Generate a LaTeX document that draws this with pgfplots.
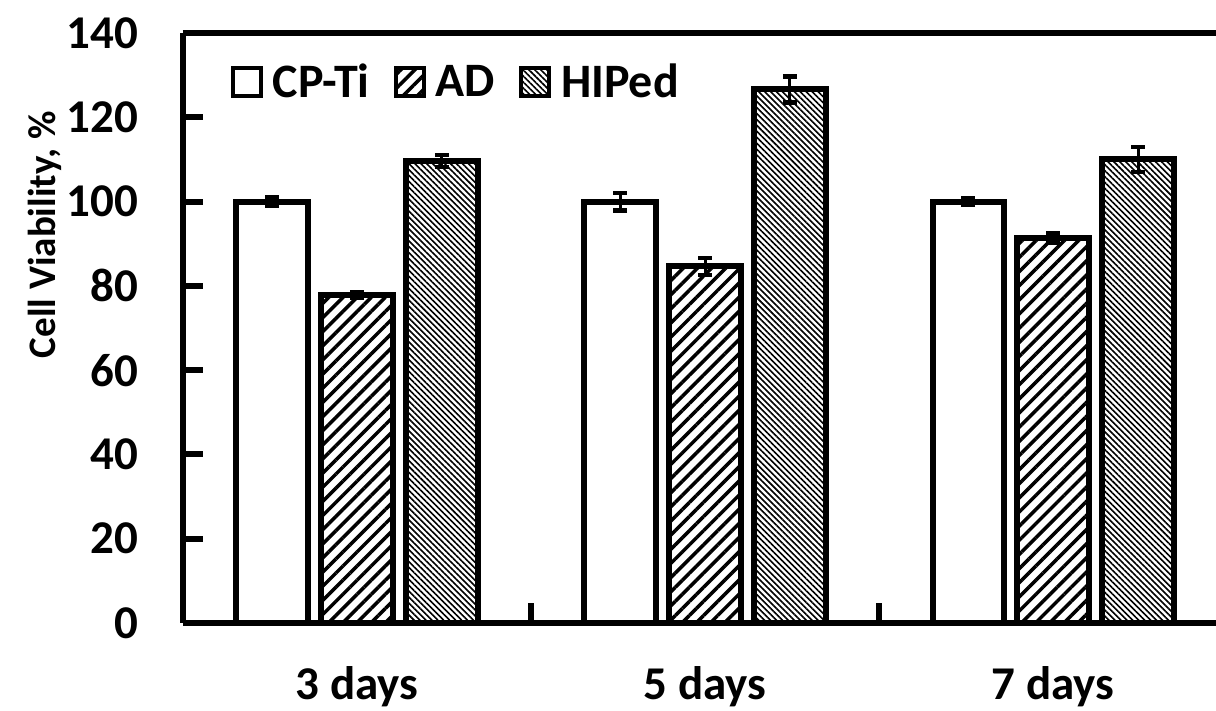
\documentclass[border=0pt]{standalone}
\usepackage{fontspec}
\setmainfont{Carlito}
\usepackage{pgfplots}
\pgfplotsset{compat=1.18}
\usetikzlibrary{patterns.meta}

% bar style shared by the three series
\pgfplotsset{
  cellbar/.style={draw=black, line width=3pt},
}

\begin{document}
\begin{tikzpicture}
\useasboundingbox (-91.5pt,-44pt) rectangle (516.5pt,311.5pt);
\begin{axis}[
  at={(0,0)}, anchor=south west,
  scale only axis,
  width=516.5pt, height=295pt,
  ybar,
  bar width=0.205,
  xmin=-0.5, xmax=2.468,
  ymin=0, ymax=140,
  axis x line*=box,
  axis y line*=left,
  ytick={0,20,...,140},
  xtick={0,1,2},
  xticklabels={3 days,5 days,7 days},
  minor xtick={0.5,1.5},
  major x tick style={draw=none},
  minor tick length=10pt,
  major tick length=10pt,
  tick align=inside,
  xtick pos=bottom, ytick pos=left,
  axis line style={line width=3pt, -},
  tick style={line width=3pt, black},
  /pgf/number format/assume math mode=true,
  every tick label/.append style={font=\bfseries\fontsize{23.5}{23.5}\selectfont},
  yticklabel style={xshift=-19pt},
  xticklabel style={yshift=-18pt},
  ylabel={Cell Viability, \%},
  ylabel style={font=\bfseries\fontsize{19.5}{19.5}\selectfont,
                at={(axis description cs:-0.1336,0.658)}, anchor=center},
  legend columns=-1,
  legend style={draw=none, fill=none, inner sep=0pt,
                at={(axis description cs:0.046,0.917)}, anchor=west,
                font=\bfseries\fontsize{24}{24}\selectfont,
                /tikz/every odd column/.append style={column sep=5pt},
                /tikz/every even column/.append style={column sep=12pt},
                nodes={inner sep=0pt}},
  legend image code/.code={%
    \draw[#1, line width=2pt] (0pt,-7pt) rectangle (14pt,7pt);},
  error bars/y dir=both,
  error bars/y explicit,
  error bars/error bar style={line width=1.5pt, black},
  error bars/error mark options={rotate=90, mark size=3.5pt, line width=2.2pt, black},
]
\addplot+[cellbar, fill=white, bar shift=-0.244] coordinates {
  (0,100) +- (0,1.0)
  (1,100) +- (0,2.1)
  (2,100) +- (0,0.7)
};
\addplot+[cellbar, fill=white,
  postaction={pattern={Lines[angle=45, distance=5pt, line width=1.75pt]}},
  bar shift=0] coordinates {
  (0,77.9) +- (0,0.7)
  (1,84.6) +- (0,2.0)
  (2,91.3) +- (0,1.2)
};
\addplot+[cellbar, fill=white,
  postaction={pattern={Lines[angle=-45, distance=2.1pt, line width=0.8pt]}},
  bar shift=0.244] coordinates {
  (0,109.6) +- (0,1.4)
  (1,126.6) +- (0,3.1)
  (2,110.0) +- (0,3.0)
};
\legend{CP-Ti, AD, HIPed}
\end{axis}
\end{tikzpicture}
\end{document}
